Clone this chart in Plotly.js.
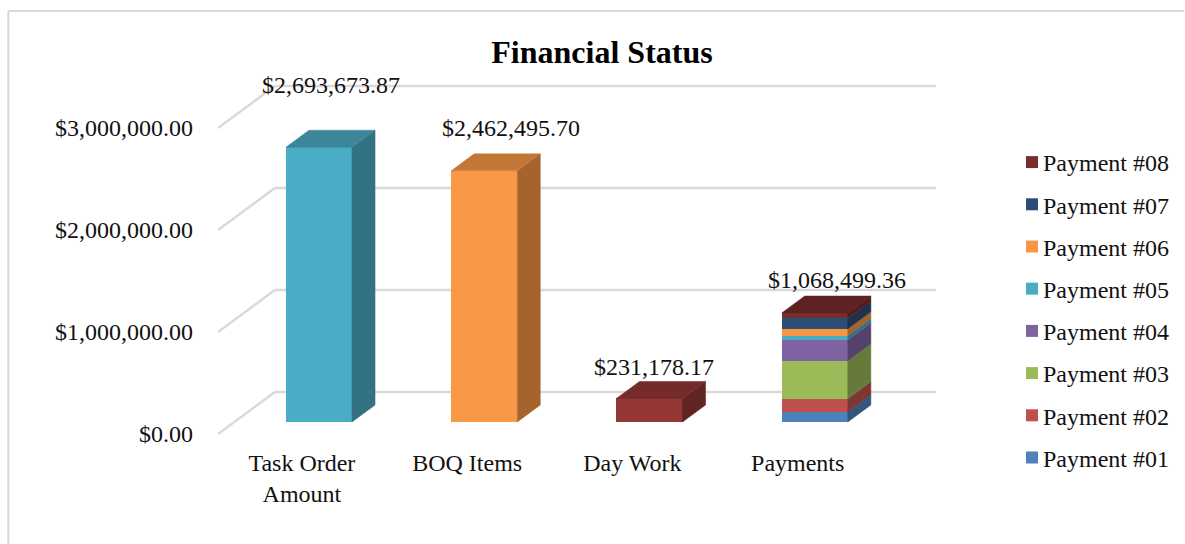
<!DOCTYPE html>
<html><head><meta charset="utf-8">
<script src="https://cdn.plot.ly/plotly-3.0.1.min.js"></script>
<style>html,body{margin:0;padding:0;background:#fff;overflow:hidden}</style>
</head><body><div id="chart" style="width:1185px;height:544px"></div>
<script>
// ---------- data ----------
const categories = ["Task Order<br>Amount", "BOQ Items", "Day Work", "Payments"];
const totals = [2693673.87, 2462495.70, 231178.17, 1068499.36];
const singleColors = ["#4BACC6", "#FA9846", "#953735"];
const paymentNames = ["Payment #01","Payment #02","Payment #03","Payment #04","Payment #05","Payment #06","Payment #07","Payment #08"];
const paymentValues = [101000, 127000, 373000, 203000, 42000, 69000, 101000, 52499.36];
const paymentColors = ["#4F81BD","#C0504D","#9BBB59","#8064A2","#4BACC6","#F79646","#2C4D75","#772C2A"];
const yTicks = [0, 1000000, 2000000, 3000000];

// ---------- layout geometry ----------
const W = 1185, H = 544, L = 218, R = 248, T = 70, B = 104;
const unitX = 165.5, unitY = 102 / 1e6;
const xMin = (L - 302) / unitX, xMax = (W - R - 302) / unitX;
const yMax = (434 - T) / unitY, yMin = (434 - (H - B)) / unitY;
const DX = 57 / unitX, DY = 42 / unitY;          // full floor depth, in axis units
const d0 = 0.285, d1 = 0.69, halfW = 0.2;        // bar depth position
const barNudge = 0.005;                          // sideways nudge of the bars, in axis units
const FONT = "Liberation Serif";
const GRID = "#d9d9d9";

const proj = (x, v, d) => [x + d * DX, v + d * DY];
const px = x => (x - L) / (W - L - R);
const py = y => (H - B - y) / (H - T - B);

function shade(hex, f) {
  const n = parseInt(hex.slice(1), 16);
  const c = [n >> 16, (n >> 8) & 255, n & 255].map(v => Math.round(v * f));
  return `rgb(${c.join(",")})`;
}
function polygon(points, color) {
  return { type: "scatter", mode: "lines", fill: "toself", fillcolor: color,
    x: points.map(p => p[0]), y: points.map(p => p[1]),
    line: { color: color, width: 0.5 }, showlegend: false, hoverinfo: "skip" };
}
function block(i, base, value, color, withTop) {
  const xl = i + barNudge - halfW, xr = i + barNudge + halfW, top = base + value, out = [];
  out.push(polygon([proj(xr, base, d0), proj(xr, base, d1), proj(xr, top, d1), proj(xr, top, d0), proj(xr, base, d0)], shade(color, 0.66)));
  if (withTop) out.push(polygon([proj(xl, top, d0), proj(xr, top, d0), proj(xr, top, d1), proj(xl, top, d1), proj(xl, top, d0)], shade(color, 0.78)));
  return out;
}
function front(i, base, value, color, extra) {
  const [x, y0] = proj(i + barNudge, base, d0);
  return Object.assign({ type: "bar", x: [x], y: [value], base: [y0], width: [2 * halfW],
    marker: { color: color, line: { width: 0 } }, showlegend: false,
    hovertemplate: "%{y:$,.2f}<extra></extra>" }, extra || {});
}

// ---------- traces ----------
const traces = [], faces = [], payTraces = [];
singleColors.forEach((c, i) => {
  traces.push(front(i, 0, totals[i], c, { name: categories[i] }));
  faces.push(...block(i, 0, totals[i], c, true));
});
let running = 0;
paymentNames.forEach((name, k) => {
  payTraces.unshift(front(3, running, paymentValues[k], paymentColors[k],
    { name: name, showlegend: true, legendgroup: name }));
  faces.push(...block(3, running, paymentValues[k], paymentColors[k], k === paymentNames.length - 1));
  running += paymentValues[k];
});
const data = traces.concat(payTraces, faces);

// ---------- gridlines on the walls ----------
const shapes = [];
yTicks.forEach(v => {
  const a = proj(xMin, v, 0), b = proj(xMin, v, 1);
  const line = { color: GRID, width: 2.5 };
  shapes.push({ type: "line", layer: "below", xref: "x", yref: "y", x0: a[0], y0: a[1], x1: b[0], y1: b[1], line });
  shapes.push({ type: "line", layer: "below", xref: "x", yref: "y", x0: b[0], y0: b[1], x1: xMax, y1: b[1], line });
});
// chart frame
shapes.push({ type: "line", xref: "paper", yref: "paper", x0: px(8), y0: py(11), x1: px(W), y1: py(11), line: { color: GRID, width: 2 } });
shapes.push({ type: "line", xref: "paper", yref: "paper", x0: px(8), y0: py(11), x1: px(8), y1: py(H), line: { color: GRID, width: 2 } });

// ---------- value labels ----------
const money = v => "$" + v.toLocaleString("en-US", { minimumFractionDigits: 2, maximumFractionDigits: 2 });
const labelShiftX = [12.5, 27.5, 5.5, 23.5], labelShiftY = [62, 43, 31, 33];
const annotations = totals.map((v, i) => {
  const p = proj(i, v, d0);
  return { x: p[0], y: p[1], xref: "x", yref: "y", text: money(v), showarrow: false,
    xanchor: "center", yanchor: "middle", xshift: labelShiftX[i], yshift: labelShiftY[i],
    font: { family: FONT, size: 24, color: "#111" } };
});

const layout = {
  width: W, height: H, paper_bgcolor: "#fff", plot_bgcolor: "rgba(0,0,0,0)",
  margin: { l: L, r: R, t: T, b: B, pad: 0 },
  font: { family: FONT, size: 24, color: "#111" },
  title: { text: "<b>Financial Status</b>", xref: "container", yref: "container",
    x: 602 / W, y: 1 - 52 / H, xanchor: "center", yanchor: "middle",
    font: { family: FONT, size: 32, color: "#000" } },
  barmode: "overlay", bargap: 0,
  xaxis: { range: [xMin, xMax], tickmode: "array", tickvals: [0, 1, 2, 3], ticktext: categories,
    showgrid: false, zeroline: false, showline: false, ticks: "", ticklabelstandoff: 6, automargin: false, tickangle: 0 },
  yaxis: { range: [yMin, yMax], tickmode: "array", tickvals: yTicks, tickformat: "$,.2f",
    showgrid: false, zeroline: false, showline: false, ticks: "", ticklabelstandoff: 24, automargin: false },
  legend: { x: px(1003), y: py(140), xanchor: "left", yanchor: "top", xref: "paper", yref: "paper",
    traceorder: "grouped", tracegroupgap: 8, bgcolor: "rgba(0,0,0,0)", borderwidth: 0,
    font: { family: FONT, size: 24, color: "#111" } },
  shapes, annotations, showlegend: true
};
Plotly.newPlot("chart", data, layout, { displayModeBar: false, responsive: false }).then(gd => {
  gd.querySelectorAll(".legendsymbols").forEach(s => s.setAttribute("transform", "translate(9,0)"));
});
</script></body></html>
